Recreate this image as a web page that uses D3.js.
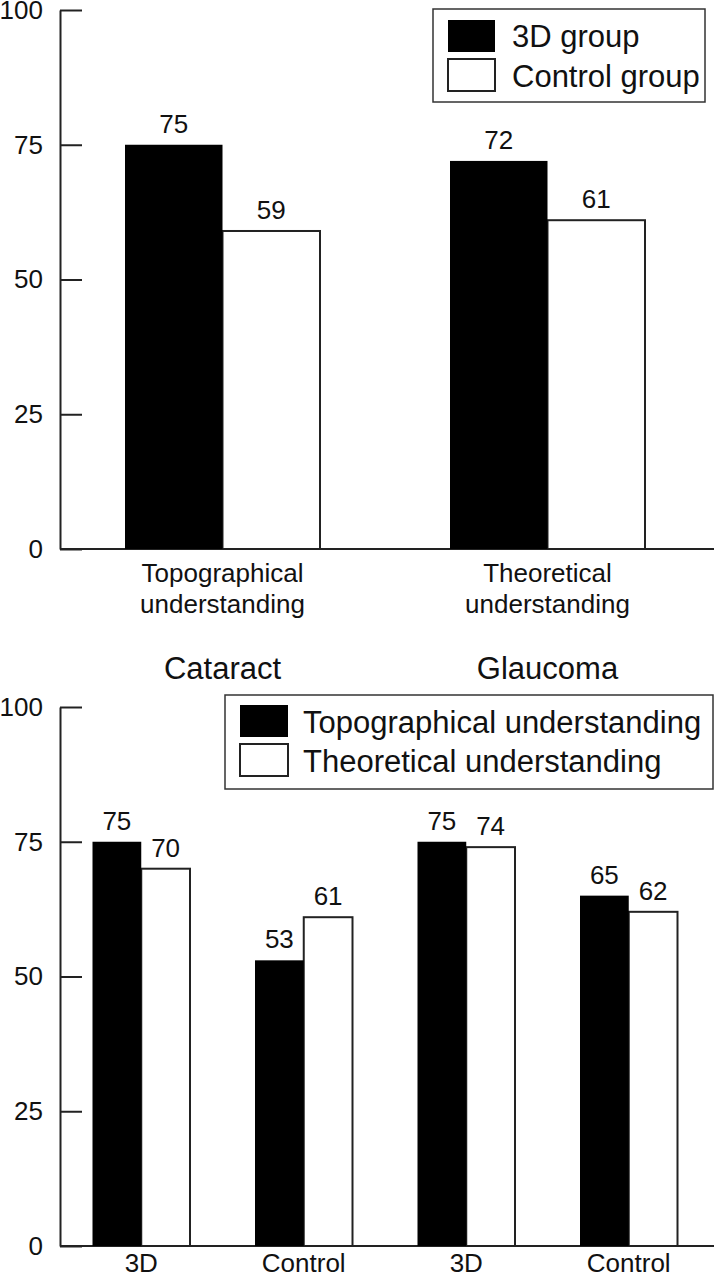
<!DOCTYPE html>
<html>
<head>
<meta charset="utf-8">
<script src="https://cdn.jsdelivr.net/npm/d3@7"></script>
<style>
  html, body { margin: 0; padding: 0; background: #fff; }
  svg { display: block; }
  text { font-family: "Liberation Sans", Arial, Helvetica, sans-serif; fill: #111; }
</style>
</head>
<body>
<script>
// ---------- Data ----------
const topCategories = [["Topographical", "understanding"], ["Theoretical", "understanding"]];
const topSeries = ["3D group", "Control group"];
const top3D = [75, 72];
const topControl = [59, 61];

const bottomTitles = ["Cataract", "Glaucoma"];
const bottomCategories = ["3D", "Control", "3D", "Control"];
const bottomSeries = ["Topographical understanding", "Theoretical understanding"];
const bottomTopographical = [75, 53, 75, 65];
const bottomTheoretical = [70, 61, 74, 62];

const yTicks = [0, 25, 50, 75, 100];

// ---------- Setup ----------
const W = 714, H = 1280;
const svg = d3.select("body").append("svg").attr("width", W).attr("height", H);
const fills = ["#000", "#fff"];
const lineColor = "#222";

function drawPanel(opts) {
  const { y0, y100, cats, seriesVals, labelBaseline } = opts;
  const g = svg.append("g");
  const y = d3.scaleLinear().domain([0, 100]).range([y0, y100]);
  const x = d3.scaleBand().domain(d3.range(cats.length)).range([60, 710])
    .paddingInner(0.4).paddingOuter(0.2);
  const xs = d3.scaleBand().domain([0, 1]).range([0, x.bandwidth()]);

  // y axis
  const ax = g.append("g").attr("transform", "translate(60,0)")
    .call(d3.axisLeft(y).tickValues(yTicks).tickSizeInner(-22).tickSizeOuter(0).tickPadding(17));
  ax.selectAll("path, line").attr("stroke", lineColor).attr("stroke-width", 2);
  ax.selectAll("text").attr("font-size", 26).attr("fill", "#111")
    .style("font-family", '"Liberation Sans", Arial, sans-serif');

  // x axis baseline
  g.append("line").attr("x1", 60).attr("x2", W).attr("y1", y(0)).attr("y2", y(0))
    .attr("stroke", lineColor).attr("stroke-width", 2);

  const data = [];
  cats.forEach((c, i) => {
    [1, 0].forEach(s => data.push({ i, s, v: seriesVals[s][i] }));
  });

  g.selectAll("rect.bar").data(data).join("rect")
    .attr("class", "bar")
    .attr("x", d => x(d.i) + xs(d.s))
    .attr("y", d => y(d.v))
    .attr("width", xs.bandwidth())
    .attr("height", d => y(0) - y(d.v))
    .attr("fill", d => fills[d.s])
    .attr("stroke", d => d.s === 1 ? lineColor : "none")
    .attr("stroke-width", 2);

  g.selectAll("text.val").data(data).join("text")
    .attr("class", "val")
    .attr("x", d => x(d.i) + xs(d.s) + xs.bandwidth() / 2)
    .attr("y", d => y(d.v) - 12)
    .attr("text-anchor", "middle")
    .attr("font-size", 26)
    .text(d => d.v);

  // category labels
  cats.forEach((c, i) => {
    const lines = Array.isArray(c) ? c : [c];
    const t = g.append("text")
      .attr("x", x(i) + x.bandwidth() / 2)
      .attr("y", labelBaseline)
      .attr("text-anchor", "middle")
      .attr("font-size", 26);
    lines.forEach((ln, k) => {
      t.append("tspan").attr("x", x(i) + x.bandwidth() / 2)
        .attr("dy", k === 0 ? 0 : 31).text(ln);
    });
  });
  return { x, y };
}

function drawLegend(box, labels, swatch, textX, baselines) {
  const g = svg.append("g");
  g.append("rect").attr("x", box[0]).attr("y", box[1])
    .attr("width", box[2] - box[0]).attr("height", box[3] - box[1])
    .attr("fill", "#fff").attr("stroke", "#333").attr("stroke-width", 1.5);
  labels.forEach((lab, k) => {
    g.append("rect").attr("x", swatch.x).attr("y", swatch.ys[k])
      .attr("width", swatch.w).attr("height", swatch.h)
      .attr("fill", fills[k]).attr("stroke", k === 1 ? lineColor : "none").attr("stroke-width", 2);
    g.append("text").attr("x", textX).attr("y", baselines[k])
      .attr("font-size", 31).text(lab);
  });
}

// ---------- Top panel ----------
drawPanel({
  y0: 549, y100: 10,
  cats: topCategories,
  seriesVals: [top3D, topControl],
  labelBaseline: 582
});
drawLegend([433, 9, 705, 102], topSeries,
  { x: 448, w: 47, h: 32, ys: [20, 59] }, 512, [47, 87]);

// ---------- Bottom panel ----------
const bp = drawPanel({
  y0: 1246, y100: 707,
  cats: bottomCategories,
  seriesVals: [bottomTopographical, bottomTheoretical],
  labelBaseline: 1272
});
bottomTitles.forEach((t, k) => {
  const cx = (bp.x(2 * k) + bp.x(2 * k + 1) + bp.x.bandwidth()) / 2;
  svg.append("text").attr("x", cx).attr("y", 679).attr("text-anchor", "middle")
    .attr("font-size", 31).text(t);
});
drawLegend([225, 695, 713, 789], bottomSeries,
  { x: 240, w: 48, h: 32, ys: [705, 744] }, 303, [733, 772]);
</script>
</body>
</html>
